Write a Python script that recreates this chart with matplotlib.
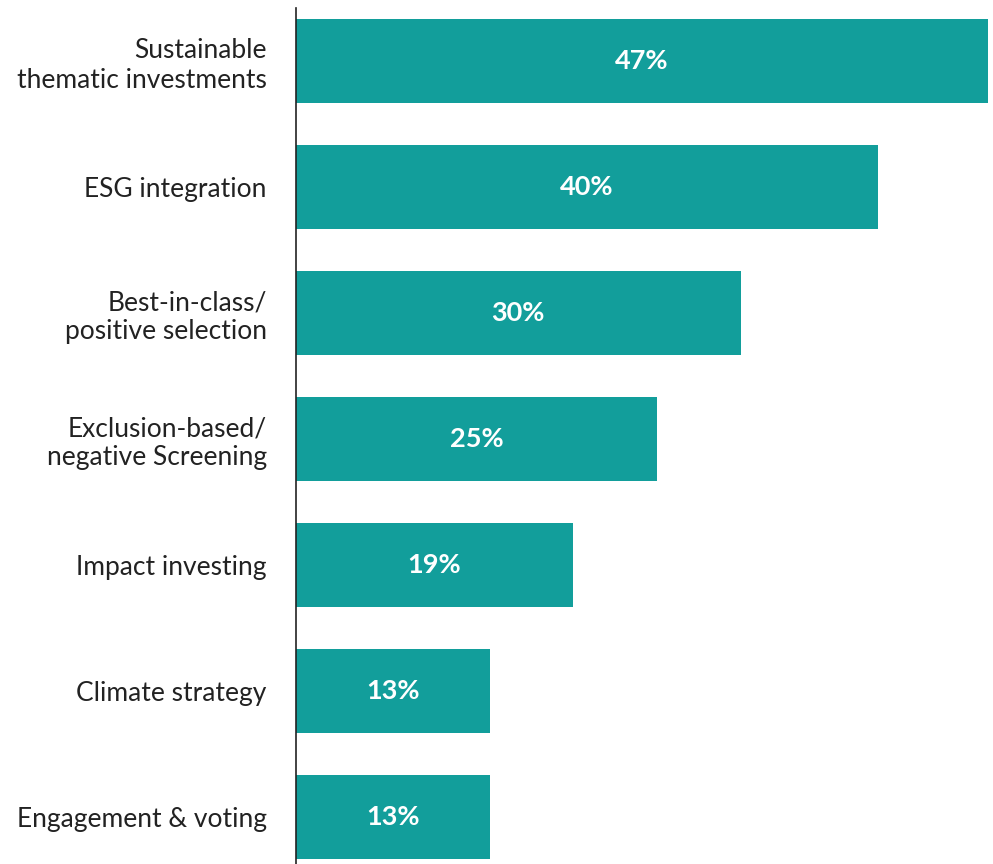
import matplotlib
matplotlib.use("Agg")
import matplotlib.pyplot as plt

categories = ["Sustainable\nthematic investments",
              "ESG integration",
              "Best-in-class/\npositive selection",
              "Exclusion-based/\nnegative Screening",
              "Impact investing",
              "Climate strategy",
              "Engagement & voting"]
# bar lengths
values = [47, 39.5, 30.2, 24.5, 18.8, 13.2, 13.2]
labels = ["47%", "40%", "30%", "25%", "19%", "13%", "13%"]

teal = "#129e9b"

plt.rcParams["font.family"] = ["Lato", "DejaVu Sans"]

fig = plt.figure(figsize=(9.93, 8.64), dpi=100)
ax = fig.add_axes([296 / 993, 0.0, (988 - 296) / 993, 1 - 8 / 864])

pos = list(range(len(values)))
ax.barh(pos, values, height=0.667, color=teal)
for i in pos:
    ax.text(values[i] / 2, i, labels[i], ha="center", va="center",
            color="white", fontsize=19.5, fontweight="bold")

ax.set_xlim(0, 47)
ax.set_ylim(6 + 47 / 126, -53 / 126)
ax.set_yticks(pos)
ax.set_yticklabels(categories, fontsize=19, color="#222222", linespacing=1.2)
ax.tick_params(axis="y", length=0, pad=21)
ax.set_xticks([])
for s in ["top", "right", "bottom"]:
    ax.spines[s].set_visible(False)
ax.spines["left"].set_color("#222222")
ax.spines["left"].set_linewidth(1.2)

fig.savefig("out.png", dpi=100)
